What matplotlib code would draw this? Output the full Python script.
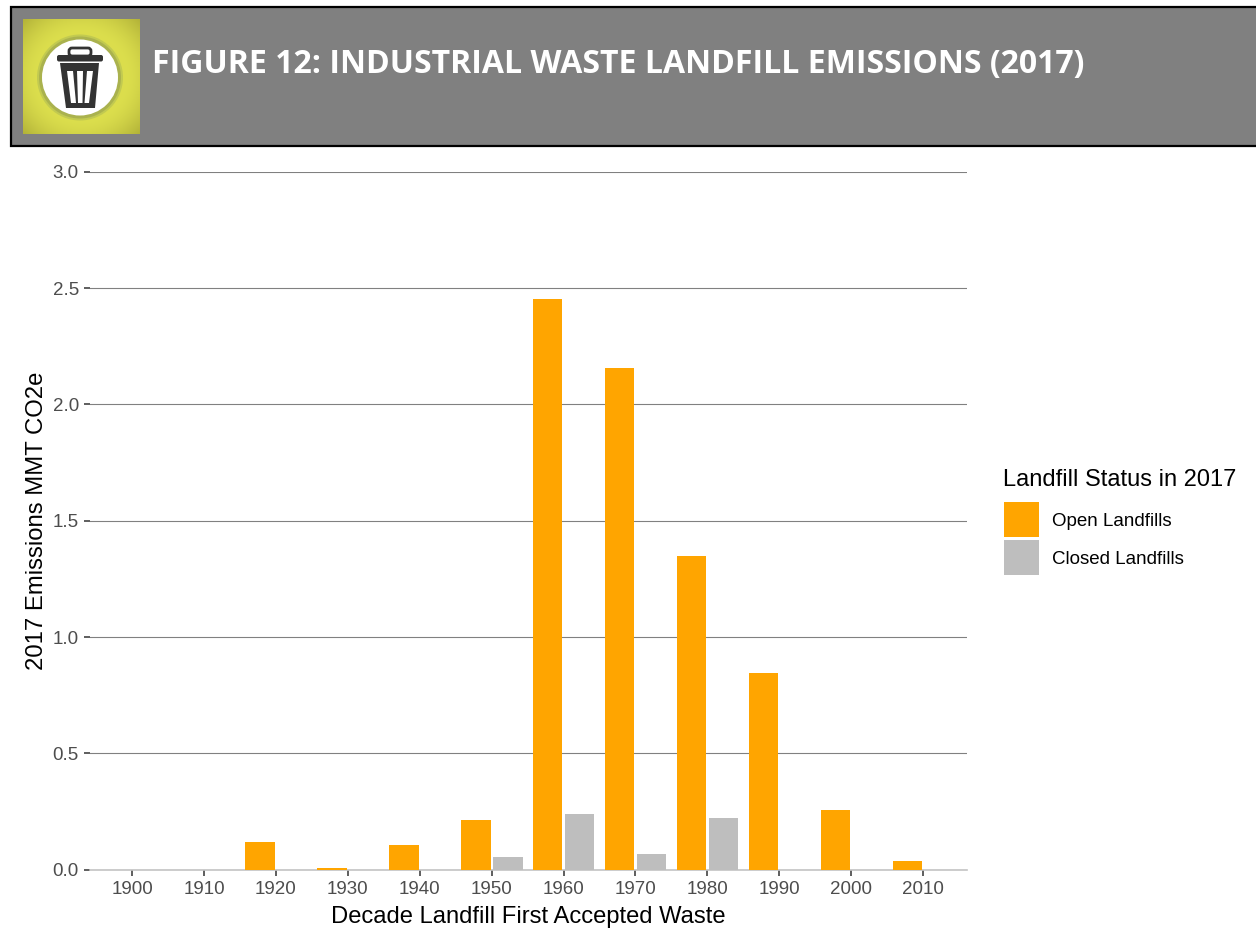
import numpy as np
import matplotlib
matplotlib.use('Agg')
import matplotlib.pyplot as plt
from matplotlib.patches import Rectangle, Circle, Polygon, FancyBboxPatch

W, H = 1256, 930

decades = ['1900', '1910', '1920', '1930', '1940', '1950', '1960', '1970', '1980', '1990', '2000', '2010']
open_landfills = [0, 0, 0.12, 0.005, 0.105, 0.215, 2.455, 2.155, 1.35, 0.845, 0.255, 0.035]
closed_landfills = [0, 0, 0, 0, 0, 0.055, 0.24, 0.065, 0.22, 0, 0, 0]
yticks = [0.0, 0.5, 1.0, 1.5, 2.0, 2.5, 3.0]

plt.rcParams['font.family'] = ['Liberation Sans', 'DejaVu Sans']
fig = plt.figure(figsize=(W / 100, H / 100), dpi=100)

# plot panel, placed by pixel
ax = fig.add_axes([90 / W, 1 - 869.5 / H, (967 - 90) / W, (869.5 - 172) / H])
x = np.arange(len(decades))
ax.bar(x - 0.22, open_landfills, 0.41, color='#FFA500', label='Open Landfills', zorder=3)
ax.bar(x + 0.225, closed_landfills, 0.41, color='#BEBEBE', label='Closed Landfills', zorder=3)
ax.set_xlim(-0.585, 11.61)
ax.set_ylim(0, 3)
ax.set_xticks(x, decades)
ax.set_yticks(yticks, ['%.1f' % t for t in yticks])
ax.tick_params(axis='both', labelsize=13.5, labelcolor='#4D4D4D', color='#333333', length=4, width=1.1, pad=4)
ax.grid(axis='y', color='#808080', linewidth=0.8, zorder=0)
for s in ['top', 'right', 'left']:
    ax.spines[s].set_visible(False)
ax.spines['bottom'].set_color('#c4c4c4')
ax.spines['bottom'].set_linewidth(1.2)
ax.spines['bottom'].set_zorder(2)
ax.set_xlabel('Decade Landfill First Accepted Waste', fontsize=17.1, labelpad=6)
ax.set_ylabel('2017 Emissions MMT CO2e', fontsize=17.2, labelpad=3)

# overlay in pixel coordinates for header and legend
ov = fig.add_axes([0, 0, 1, 1], zorder=5)
ov.patch.set_alpha(0)
ov.axis('off')

ov.add_patch(Rectangle((11, 7), W + 20, 139, facecolor='#808080', edgecolor='black', linewidth=1.6))

# trash can icon
yy, xx = np.mgrid[0:115, 0:117]
d = np.hypot((xx - 58) / 58, (yy - 57) / 57) / np.sqrt(2)
shade = (np.clip((d - 0.55) / 0.45, 0, 1) ** 1.5)[..., None]
icon = (1 - shade) * np.array([0.86, 0.87, 0.30]) + shade * np.array([0.70, 0.70, 0.22])
ov.imshow(icon, extent=(23, 140, 134, 19), aspect='auto', zorder=2)
ov.set_xlim(0, W)
ov.set_ylim(H, 0)
ov.add_patch(Circle((80, 77.5), 43, facecolor='#c2ca50', edgecolor='none', zorder=3))
ov.add_patch(Circle((80, 77.5), 41, facecolor='#aab24e', edgecolor='none', zorder=3))
ov.add_patch(Circle((80, 77.5), 38, facecolor='white', edgecolor='none', zorder=3))
can = '#333333'
ov.add_patch(FancyBboxPatch((57, 55), 46, 6.5, boxstyle='round,pad=0,rounding_size=2', facecolor=can, edgecolor='none', zorder=4))
ov.add_patch(FancyBboxPatch((69, 48), 22, 8, boxstyle='round,pad=0,rounding_size=3', facecolor='none', edgecolor=can, linewidth=2, zorder=4))
ov.add_patch(Polygon([(60, 63), (99, 63), (95, 108), (66, 108)], closed=True, facecolor=can, edgecolor='none', zorder=4))
for xs in ([67, 73, 76, 71], [77, 83, 82.5, 78], [87, 93, 89, 84.5]):
    ov.add_patch(Polygon([(xs[0], 71), (xs[1], 71), (xs[2], 103), (xs[3], 103)], closed=True, facecolor='white', edgecolor='none', zorder=5))

ov.text(152, 64, 'FIGURE 12: INDUSTRIAL WASTE LANDFILL EMISSIONS (2017)', color='white', fontsize=23,
        fontweight='bold', family=['Open Sans', 'DejaVu Sans'], va='center', ha='left', zorder=5)

# legend
ov.text(1003, 479.5, 'Landfill Status in 2017', fontsize=17, color='black', va='center', ha='left')
ov.add_patch(Rectangle((1004, 502), 35, 35, facecolor='#FFA500', edgecolor='none'))
ov.add_patch(Rectangle((1004, 539.5), 35, 35, facecolor='#BEBEBE', edgecolor='none'))
ov.text(1052, 521, 'Open Landfills', fontsize=13.5, color='black', va='center', ha='left')
ov.text(1052, 559, 'Closed Landfills', fontsize=13.5, color='black', va='center', ha='left')

fig.savefig('out.png', dpi=100)
